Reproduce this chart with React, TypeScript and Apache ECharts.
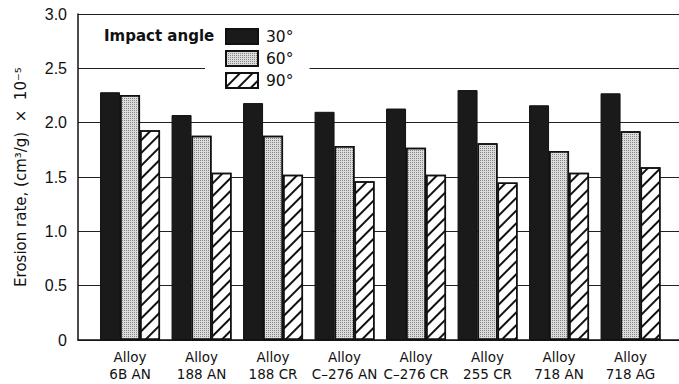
import React, { useEffect, useRef } from "react";
import * as echarts from "echarts";

const categories = [
  "Alloy\n6B AN",
  "Alloy\n188 AN",
  "Alloy\n188 CR",
  "Alloy\nC–276 AN",
  "Alloy\nC–276 CR",
  "Alloy\n255 CR",
  "Alloy\n718 AN",
  "Alloy\n718 AG",
];
const seriesNames = ["30°", "60°", "90°"];
const angle30 = [2.28, 2.07, 2.18, 2.1, 2.13, 2.3, 2.16, 2.27];
const angle60 = [2.255, 1.88, 1.88, 1.785, 1.77, 1.81, 1.74, 1.92];
const angle90 = [1.93, 1.54, 1.52, 1.46, 1.52, 1.45, 1.54, 1.59];
const yMin = 0;
const yMax = 3;
const yInterval = 0.5;

const font = "'Liberation Sans', Arial, Helvetica, sans-serif";
const wide = "'DejaVu Sans', Verdana, sans-serif";

export default function App() {
  const ref = useRef<HTMLDivElement>(null);
  useEffect(() => {
    if (!ref.current) return;
    const chart = echarts.init(ref.current, undefined, { renderer: "svg" });
    const dotDecal = {
      symbol: "rect",
      symbolSize: 1,
      color: "rgba(0,0,0,0.4)",
      dashArrayX: [1, 1],
      dashArrayY: [1, 1],
    };
    const hatchDecal = {
      symbol: "rect",
      symbolSize: 1,
      color: "#111",
      dashArrayX: [1, 0],
      dashArrayY: [1.5, 7],
      rotation: -Math.PI / 4,
    };
    chart.setOption({
      animation: false,
      backgroundColor: "#fff",
      textStyle: { fontFamily: font },
      title: {
        text: "Impact angle",
        left: 104,
        top: 28,
        padding: 0,
        textStyle: { fontSize: 15, fontWeight: "bold", color: "#111", fontFamily: wide },
      },
      legend: {
        orient: "vertical",
        left: 205,
        top: 23,
        padding: [5, 16, 5, 20],
        backgroundColor: "#fff",
        itemWidth: 32,
        itemHeight: 15,
        itemGap: 5,
        icon: "rect",
        data: seriesNames,
        textStyle: { fontSize: 15.5, color: "#111", fontFamily: wide, padding: [0, 0, 0, 3] },
      },
      grid: [
        { left: 78, right: 0, top: 14, bottom: 44 },
        { left: 94.3, width: 572, top: 14, bottom: 44 },
      ],
      xAxis: [
        {
          gridIndex: 0,
          type: "value",
          min: 0,
          max: 1,
          axisLine: { show: true, lineStyle: { color: "#111", width: 1.5 } },
          axisTick: { show: false },
          axisLabel: { show: false },
          splitLine: { show: false },
        },
        {
          gridIndex: 1,
          type: "category",
          data: categories,
          axisLine: { show: false },
          axisTick: { show: false },
          axisLabel: {
            interval: 0,
            margin: 8,
            fontSize: 13.5,
            lineHeight: 17,
            color: "#111",
            fontFamily: wide,
          },
        },
      ],
      yAxis: [
        {
          gridIndex: 0,
          type: "value",
          min: yMin,
          max: yMax,
          interval: yInterval,
          name: "Erosion rate, (cm³/g)  ×  10⁻⁵",
          nameLocation: "middle",
          nameGap: 50,
          nameTextStyle: { fontSize: 15, color: "#111", fontFamily: wide },
          axisLine: { show: true, lineStyle: { color: "#111", width: 1.5 } },
          axisTick: { show: false },
          axisLabel: {
            margin: 11,
            fontSize: 16,
            color: "#111",
            fontFamily: font,
            formatter: (v: number) => (v === 0 ? "0" : v.toFixed(1)),
          },
          splitLine: { show: true, lineStyle: { color: "#222", width: 1 } },
        },
        {
          gridIndex: 1,
          type: "value",
          min: yMin,
          max: yMax,
          interval: yInterval,
          axisLine: { show: false },
          axisTick: { show: false },
          axisLabel: { show: false },
          splitLine: { show: false },
        },
      ],
      series: [
        {
          name: seriesNames[0],
          type: "bar",
          xAxisIndex: 1,
          yAxisIndex: 1,
          data: angle30,
          barWidth: 20,
          barGap: "0%",
          itemStyle: { color: "#1a1a1a", borderColor: "#111", borderWidth: 1 },
        },
        {
          name: seriesNames[1],
          type: "bar",
          xAxisIndex: 1,
          yAxisIndex: 1,
          data: angle60,
          barWidth: 20,
          barGap: "0%",
          itemStyle: { color: "#dcdcdc", borderColor: "#111", borderWidth: 1.5, decal: dotDecal },
        },
        {
          name: seriesNames[2],
          type: "bar",
          xAxisIndex: 1,
          yAxisIndex: 1,
          data: angle90,
          barWidth: 20,
          barGap: "0%",
          itemStyle: { color: "#fff", borderColor: "#111", borderWidth: 1.5, decal: hatchDecal },
        },
      ],
    });
    return () => chart.dispose();
  }, []);
  return (
    <div
      ref={ref}
      style={{ position: "absolute", left: 0, top: 0, width: 679, height: 384 }}
    />
  );
}
